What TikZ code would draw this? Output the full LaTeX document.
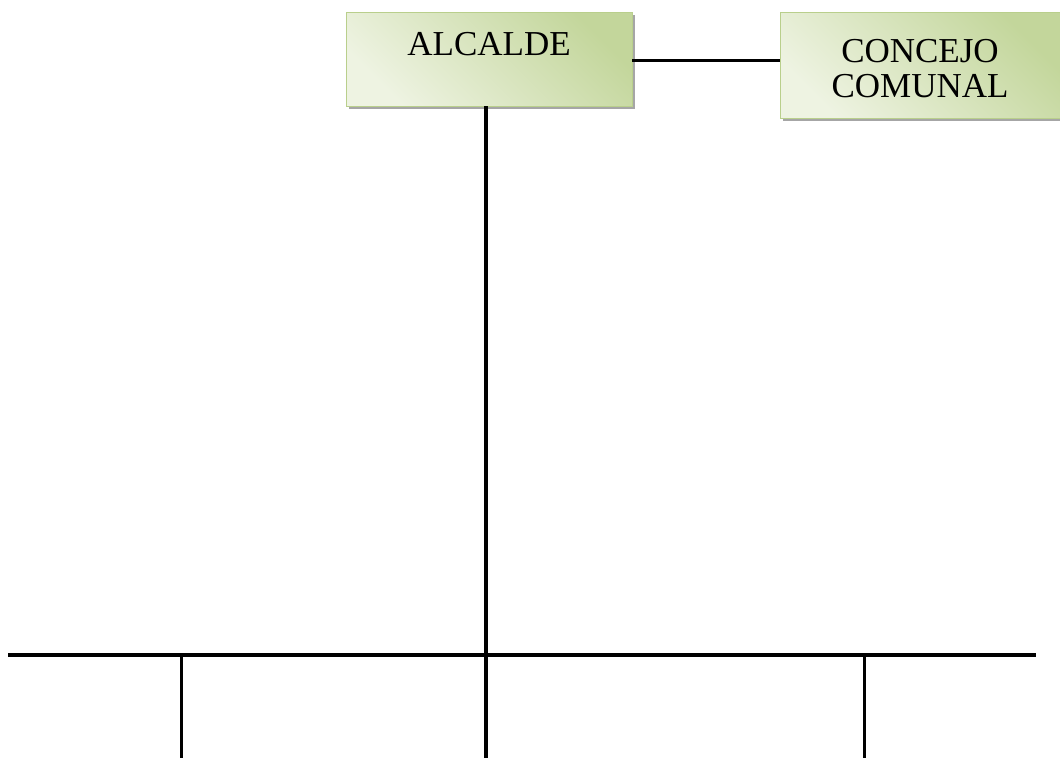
\documentclass[tikz,border=0pt]{standalone}
\usepackage{fontspec}
\setmainfont{Liberation Serif}
\definecolor{boxdark}{HTML}{C3D69B}
\definecolor{boxlight}{HTML}{EEF3E2}
\definecolor{boxedge}{HTML}{B9CF8C}
\definecolor{shadowgray}{HTML}{A6A6A6}
\begin{document}
\begin{tikzpicture}[x=1pt,y=-1pt,
  boxfill/.style={top color=boxdark, bottom color=boxlight, shading angle=315, draw=boxedge, line width=0.8pt},
  boxtext/.style={font=\fontsize{35}{35}\selectfont, align=center, anchor=base}]
\useasboundingbox (0,0) rectangle (1060,758);
\path[fill=white] (0,0) rectangle (1060,758);
% boxes
\fill[shadowgray] (349,15) rectangle (635,109);
\shade[boxfill] (346,12) rectangle (632,106);
\node[boxtext] (alc) at (489,55) {ALCALDE};
\coordinate (alcR) at (632,60);
\coordinate (alcB) at (486,106);
\fill[shadowgray] (783,15) rectangle (1063,121);
\shade[boxfill] (780,12) rectangle (1060,118);
\node[boxtext] (con) at (920,97) {CONCEJO\\COMUNAL};
\coordinate (conL) at (780,60);
% connectors
\coordinate (busL) at (8,655);
\coordinate (busR) at (1036,655);
\coordinate (d1) at (181,655);
\coordinate (d1e) at (181,758);
\coordinate (d2e) at (486,758);
\coordinate (d3) at (864,655);
\coordinate (d3e) at (864,758);
\draw[line width=3pt] (alcR) -- (conL);
\draw[line width=3.6pt] (alcB) -- (d2e);
\draw[line width=4.2pt] (busL) -- (busR);
\draw[line width=3pt] (d1) -- (d1e);
\draw[line width=3pt] (d3) -- (d3e);
\end{tikzpicture}
\end{document}
